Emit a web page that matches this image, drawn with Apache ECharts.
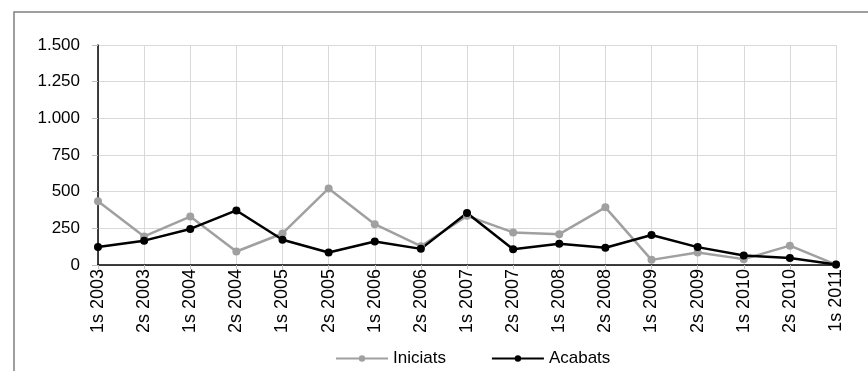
<!DOCTYPE html>
<html><head><meta charset="utf-8">
<script src="https://cdn.jsdelivr.net/npm/echarts@6/dist/echarts.min.js"></script>
<style>html,body{margin:0;padding:0;background:#fff}#c{width:868px;height:371px}</style>
</head><body><div id="c"></div>
<script>
const categories = ['1s 2003','2s 2003','1s 2004','2s 2004','1s 2005','2s 2005','1s 2006','2s 2006','1s 2007','2s 2007','1s 2008','2s 2008','1s 2009','2s 2009','1s 2010','2s 2010','1s 2011'];
const iniciats = [435, 195, 330, 92, 215, 522, 278, 128, 335, 222, 210, 393, 35, 85, 40, 132, 3];
const acabats  = [122, 166, 246, 372, 172, 85, 160, 110, 354, 108, 145, 118, 205, 122, 65, 48, 3];
const yTicks = [0, 250, 500, 750, 1000, 1250, 1500];

const FONT = '"Liberation Sans", Arial, sans-serif';
const chart = echarts.init(document.getElementById('c'), null, {renderer: 'canvas'});
chart.setOption({
  animation: false,
  backgroundColor: '#fff',
  graphic: [{
    type: 'rect', silent: true, z: -1,
    shape: {x: 14, y: 12, width: 900, height: 400},
    style: {fill: 'none', stroke: '#7f7f7f', lineWidth: 1.5}
  }],
  grid: {left: 98, right: 32, top: 45, bottom: 106, containLabel: false},
  legend: {
    top: 345, left: 330, itemGap: 45, itemWidth: 52, itemHeight: 8,
    textStyle: {fontFamily: FONT, fontSize: 17, color: '#000'},
    data: ['Iniciats', 'Acabats']
  },
  xAxis: {
    type: 'category', data: categories, boundaryGap: false,
    axisLine: {lineStyle: {color: '#000', width: 1.5}},
    axisTick: {show: true, length: 4, lineStyle: {color: '#bfbfbf'}},
    splitLine: {show: true, lineStyle: {color: '#d9d9d9', width: 1}},
    axisLabel: {rotate: 90, interval: 0, margin: 4, fontFamily: FONT, fontSize: 18, color: '#000'}
  },
  yAxis: {
    type: 'value', min: yTicks[0], max: yTicks[yTicks.length - 1], interval: 250,
    axisLine: {show: true, lineStyle: {color: '#000', width: 1.5}},
    axisTick: {show: true, length: 6, lineStyle: {color: '#bfbfbf'}},
    splitLine: {show: true, lineStyle: {color: '#d9d9d9', width: 1}},
    axisLabel: {
      margin: 18, fontFamily: FONT, fontSize: 17, color: '#000',
      formatter: v => String(v).replace(/\B(?=(\d{3})+(?!\d))/g, '.')
    }
  },
  series: [
    {
      name: 'Iniciats', type: 'line', data: iniciats,
      symbol: 'circle', symbolSize: 8, showSymbol: true,
      lineStyle: {color: '#a0a0a0', width: 2.5},
      itemStyle: {color: '#a0a0a0'}
    },
    {
      name: 'Acabats', type: 'line', data: acabats,
      symbol: 'circle', symbolSize: 8, showSymbol: true,
      lineStyle: {color: '#000', width: 2.5},
      itemStyle: {color: '#000'}
    }
  ]
});
</script></body></html>
